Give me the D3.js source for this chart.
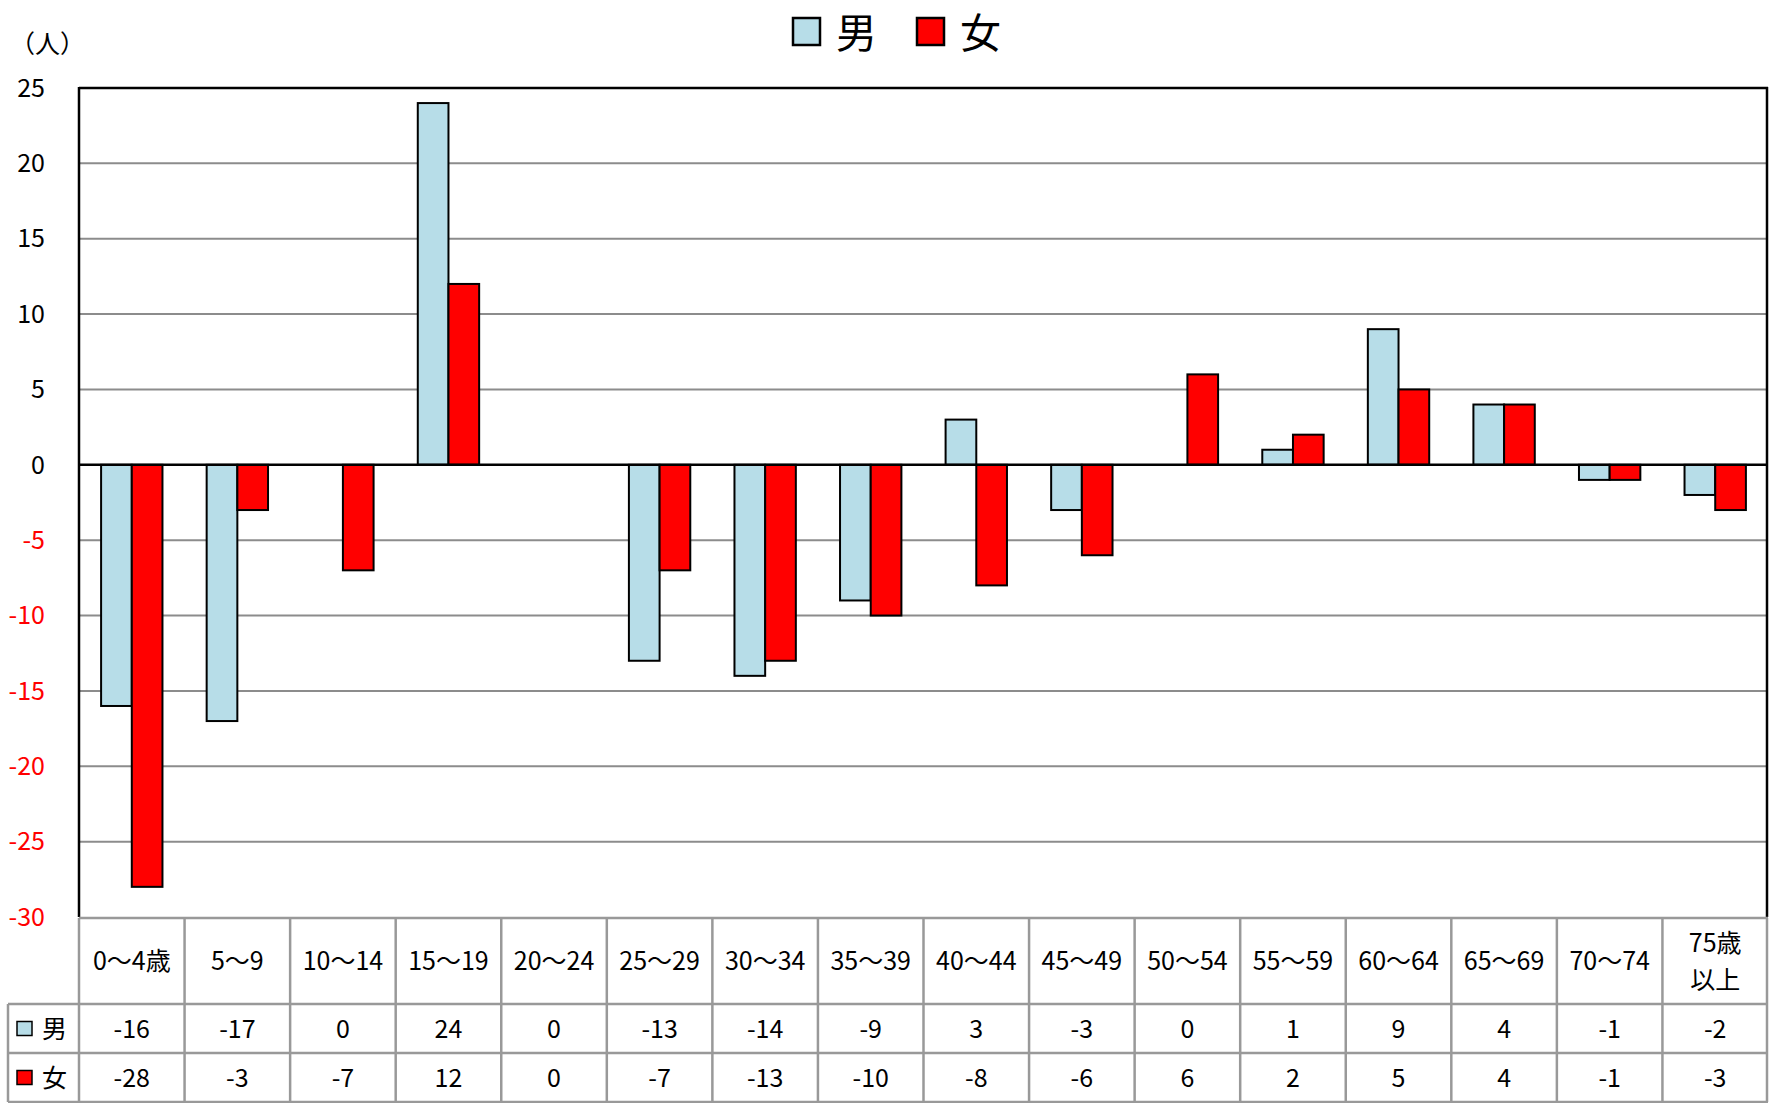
<!DOCTYPE html>
<html>
<head>
<meta charset="utf-8">
<script src="https://cdn.jsdelivr.net/npm/d3@7"></script>
<style>
  body { margin: 0; background: #fff; }
  svg { display: block; font-family: "Noto Sans CJK JP", "Noto Sans", sans-serif; }
  .tick-label { font-size: 25px; }
  .cell-text { font-size: 25px; fill: #000; }
  .grid { stroke: #8c8c8c; stroke-width: 2; }
  .table-line { stroke: #999; stroke-width: 2.5; }
</style>
</head>
<body>
<div id="chart"></div>
<script>
// Age-group change chart (男 / 女) with the data table under the bars.
const categories = ["0～4歳", "5～9", "10～14", "15～19", "20～24", "25～29", "30～34", "35～39",
  "40～44", "45～49", "50～54", "55～59", "60～64", "65～69", "70～74", "75歳\n以上"];
const seriesNames = ["男", "女"];
const maleValues = [-16, -17, 0, 24, 0, -13, -14, -9, 3, -3, 0, 1, 9, 4, -1, -2];
const femaleValues = [-28, -3, -7, 12, 0, -7, -13, -10, -8, -6, 6, 2, 5, 4, -1, -3];
const yTicks = [25, 20, 15, 10, 5, 0, -5, -10, -15, -20, -25, -30];
const colors = ["#b7dde8", "#ff0000"];

const width = 1769;
const height = 1103;
const plot = { left: 79, right: 1768, top: 88, bottom: 917 };

const svg = d3.select("#chart").append("svg")
  .attr("width", width)
  .attr("height", height);

const x = d3.scaleBand()
  .domain(categories)
  .range([plot.left, plot.right])
  .paddingInner(0)
  .paddingOuter(0);

const xInner = d3.scaleBand()
  .domain(seriesNames)
  .range([0, x.bandwidth()])
  .paddingOuter(0.72)
  .paddingInner(0);

const y = d3.scaleLinear()
  .domain([-30, 25])
  .range([plot.bottom, plot.top]);

// gridlines
svg.append("g")
  .selectAll("line")
  .data(yTicks.filter(d => d !== 0 && d !== 25 && d !== -30))
  .join("line")
  .attr("class", "grid")
  .attr("x1", plot.left).attr("x2", plot.right)
  .attr("y1", d => y(d)).attr("y2", d => y(d));

// y tick labels
svg.append("g")
  .selectAll("text")
  .data(yTicks)
  .join("text")
  .attr("class", "tick-label")
  .attr("x", 45)
  .attr("y", d => y(d))
  .attr("dy", "0.35em")
  .attr("text-anchor", "end")
  .attr("fill", d => d < 0 ? "#ff0000" : "#000")
  .text(d => d);

svg.append("text")
  .attr("class", "tick-label")
  .attr("x", 10)
  .attr("y", 53)
  .attr("font-size", 26)
  .text("（人）");

// bars
const rows = categories.map((c, i) => ({ cat: c, values: [maleValues[i], femaleValues[i]] }));

const groups = svg.append("g")
  .selectAll("g")
  .data(rows)
  .join("g")
  .attr("transform", d => `translate(${x(d.cat)},0)`);

groups.selectAll("rect")
  .data(d => d.values.map((v, j) => ({ name: seriesNames[j], value: v, idx: j })).filter(e => e.value !== 0))
  .join("rect")
  .attr("x", d => xInner(d.name))
  .attr("width", xInner.bandwidth())
  .attr("y", d => y(Math.max(0, d.value)))
  .attr("height", d => Math.abs(y(d.value) - y(0)))
  .attr("fill", d => colors[d.idx])
  .attr("stroke", "#000")
  .attr("stroke-width", 2);

// zero line and frame
svg.append("line")
  .attr("x1", plot.left).attr("x2", plot.right)
  .attr("y1", y(0)).attr("y2", y(0))
  .attr("stroke", "#000").attr("stroke-width", 2.5);

svg.append("line")
  .attr("x1", plot.left).attr("x2", plot.right)
  .attr("y1", plot.top).attr("y2", plot.top)
  .attr("stroke", "#000").attr("stroke-width", 2.5);

svg.append("line")
  .attr("x1", plot.left).attr("x2", plot.left)
  .attr("y1", plot.top - 1).attr("y2", plot.bottom)
  .attr("stroke", "#000").attr("stroke-width", 2.5);

svg.append("line")
  .attr("x1", plot.right - 1).attr("x2", plot.right - 1)
  .attr("y1", plot.top - 1).attr("y2", plot.bottom)
  .attr("stroke", "#000").attr("stroke-width", 2.5);

// legend
const legend = svg.append("g");
const legendX = [793, 917];
seriesNames.forEach((name, j) => {
  legend.append("rect")
    .attr("x", legendX[j]).attr("y", 18)
    .attr("width", 27).attr("height", 27)
    .attr("fill", colors[j])
    .attr("stroke", "#000").attr("stroke-width", 2.5);
  legend.append("text")
    .attr("x", legendX[j] + 43).attr("y", 48)
    .attr("font-size", 41)
    .text(name);
});

// data table
const table = { top: 918, catBottom: 1004, maleBottom: 1053, bottom: 1102, left: 8 };
const tbl = svg.append("g");

[table.top].forEach(yy => tbl.append("line").attr("class", "table-line")
  .attr("x1", plot.left).attr("x2", plot.right).attr("y1", yy).attr("y2", yy));
[table.catBottom, table.maleBottom, table.bottom].forEach(yy => tbl.append("line").attr("class", "table-line")
  .attr("x1", table.left).attr("x2", plot.right).attr("y1", yy).attr("y2", yy));

tbl.append("line").attr("class", "table-line")
  .attr("x1", table.left).attr("x2", table.left)
  .attr("y1", table.catBottom).attr("y2", table.bottom);

categories.concat(["end"]).forEach((c, i) => {
  const xx = i < categories.length ? x(c) : plot.right - 1;
  tbl.append("line").attr("class", "table-line")
    .attr("x1", xx).attr("x2", xx)
    .attr("y1", table.top).attr("y2", table.bottom);
});

// category labels
tbl.selectAll(".cat")
  .data(categories)
  .join("text")
  .attr("class", "cell-text cat")
  .attr("text-anchor", "middle")
  .each(function(d) {
    const lines = d.split("\n");
    const cx = x(d) + x.bandwidth() / 2;
    const cy = (table.top + table.catBottom) / 2;
    const t = d3.select(this);
    lines.forEach((ln, k) => {
      t.append("tspan")
        .attr("x", cx)
        .attr("y", cy + (k - (lines.length - 1) / 2) * 37)
        .attr("dy", "0.36em")
        .text(ln);
    });
  });

const seriesValues = [maleValues, femaleValues];
const rowMid = [(table.catBottom + table.maleBottom) / 2, (table.maleBottom + table.bottom) / 2];

seriesNames.forEach((name, j) => {
  tbl.append("rect")
    .attr("x", 17).attr("y", rowMid[j] - 7)
    .attr("width", 15).attr("height", 14)
    .attr("fill", colors[j])
    .attr("stroke", "#000").attr("stroke-width", 1.5);
  tbl.append("text")
    .attr("class", "cell-text")
    .attr("x", 42).attr("y", rowMid[j])
    .attr("dy", "0.36em")
    .text(name);
  tbl.selectAll(`.val${j}`)
    .data(seriesValues[j])
    .join("text")
    .attr("class", `cell-text val${j}`)
    .attr("text-anchor", "middle")
    .attr("x", (d, i) => x(categories[i]) + x.bandwidth() / 2)
    .attr("y", rowMid[j])
    .attr("dy", "0.36em")
    .text(d => d);
});
</script>
</body>
</html>
